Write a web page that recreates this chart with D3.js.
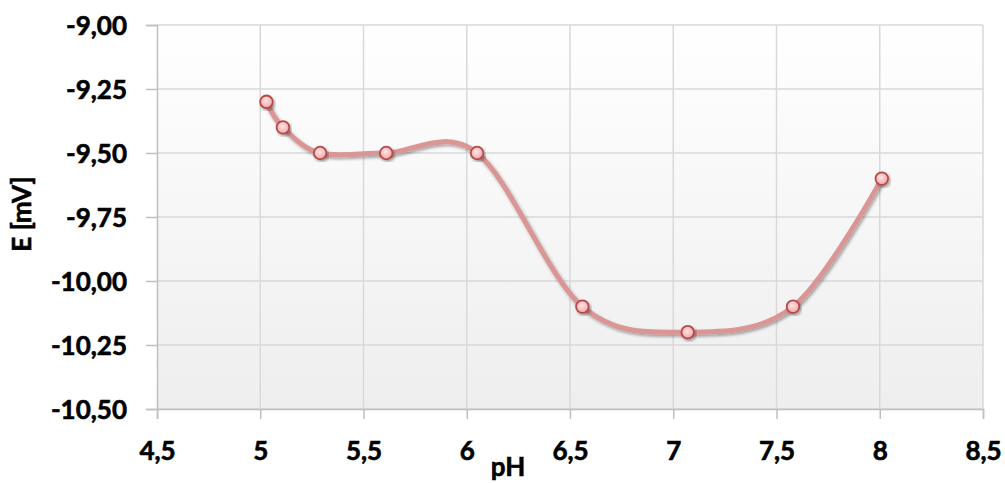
<!DOCTYPE html>
<html><head><meta charset="utf-8">
<script src="https://cdn.jsdelivr.net/npm/d3@7"></script>
<style>body{margin:0;background:#fff}svg{display:block}text{font-family:Lato,"Open Sans",sans-serif;font-weight:bold;fill:#000;stroke:#000;stroke-width:0.6px}</style>
</head><body><svg id="c" width="1005" height="483"></svg>
<script>
const pH = [5.03, 5.11, 5.29, 5.61, 6.05, 6.56, 7.07, 7.58, 8.01];
const E = [-9.30, -9.40, -9.50, -9.50, -9.50, -10.10, -10.20, -10.10, -9.60];
const xTicks = [4.5, 5, 5.5, 6, 6.5, 7, 7.5, 8, 8.5];
const yTicks = [-9.00, -9.25, -9.50, -9.75, -10.00, -10.25, -10.50];
const xTitle = "pH", yTitle = "E [mV]";

const svg = d3.select("#c");
const L = 157, R = 983, T = 25, B = 409;
const x = d3.scaleLinear().domain([4.5, 8.5]).range([L, R]);
const y = d3.scaleLinear().domain([-10.5, -9.0]).range([B, T]);
const fmtX = d => String(d).replace(".", ",");
const fmtY = d => d.toFixed(2).replace(".", ",");
const FS = "26px";

const defs = svg.append("defs");
const bg = defs.append("linearGradient").attr("id","bg").attr("x1",0).attr("y1",0).attr("x2",0).attr("y2",1);
bg.append("stop").attr("offset","0%").attr("stop-color","#ffffff");
bg.append("stop").attr("offset","100%").attr("stop-color","#eeeeee");
const mg = defs.append("radialGradient").attr("id","mk").attr("cx","45%").attr("cy","40%").attr("r","60%");
mg.append("stop").attr("offset","0%").attr("stop-color","#ffe4e4");
mg.append("stop").attr("offset","100%").attr("stop-color","#f4a5a5");
const sh = defs.append("filter").attr("id","sh").attr("x","-10%").attr("y","-10%").attr("width","130%").attr("height","130%");
sh.append("feDropShadow").attr("dx",1.5).attr("dy",2).attr("stdDeviation",1.5).attr("flood-color","#000").attr("flood-opacity",0.35);

svg.append("rect").attr("x",L).attr("y",T).attr("width",R-L).attr("height",B-T).attr("fill","url(#bg)");

// gridlines
svg.append("g").selectAll("line").data(yTicks).join("line")
  .attr("x1",L).attr("x2",R).attr("y1",d=>y(d)).attr("y2",d=>y(d))
  .attr("stroke","#d9d9d9").attr("stroke-width",1.5);
svg.append("g").selectAll("line").data(xTicks.slice(1)).join("line")
  .attr("x1",d=>x(d)).attr("x2",d=>x(d)).attr("y1",T).attr("y2",B)
  .attr("stroke","#d9d9d9").attr("stroke-width",1.5);

// axes
const ax = svg.append("g").attr("transform",`translate(0,${B})`)
  .call(d3.axisBottom(x).tickValues(xTicks).tickFormat(fmtX).tickSize(10).tickPadding(0));
const ay = svg.append("g").attr("transform",`translate(${L},0)`)
  .call(d3.axisLeft(y).tickValues(yTicks).tickFormat(fmtY).tickSize(11).tickPadding(19));
[ax, ay].forEach(g => {
  g.select(".domain").attr("stroke","#bfbfbf").attr("stroke-width",1.5);
  g.selectAll(".tick line").attr("stroke","#bfbfbf").attr("stroke-width",1.5);
  g.selectAll(".tick text").style("font-size",FS).attr("fill","#000");
});
ax.selectAll(".tick text").attr("y",51).attr("dy",0);
ay.selectAll(".tick text").attr("dy","0.36em");

// line
const line = d3.line().x((d,i)=>x(pH[i])).y((d,i)=>y(E[i])).curve(d3.curveCardinal.tension(0));
svg.append("path").datum(E).attr("d",line).attr("fill","none")
  .attr("stroke","#d99694").attr("stroke-width",5).attr("filter","url(#sh)");

svg.append("g").selectAll("circle").data(E).join("circle")
  .attr("cx",(d,i)=>x(pH[i])).attr("cy",d=>y(d)).attr("r",6.3)
  .attr("fill","url(#mk)").attr("stroke","#b54a48").attr("stroke-width",1.8)
  .attr("filter","url(#sh)");

svg.append("text").attr("x",508).attr("y",476).attr("text-anchor","middle").style("font-size",FS).text(xTitle);
svg.append("text").attr("transform","translate(31,214) rotate(-90)").attr("text-anchor","middle").style("font-size",FS).text(yTitle);
</script></body></html>
